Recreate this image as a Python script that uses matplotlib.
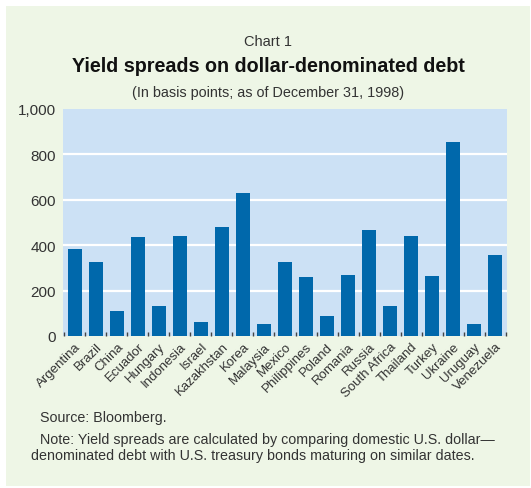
import numpy as np
import matplotlib
matplotlib.use('Agg')
import matplotlib.pyplot as plt
from matplotlib.patches import Rectangle

countries = ['Argentina', 'Brazil', 'China', 'Ecuador', 'Hungary', 'Indonesia', 'Israel',
             'Kazakhstan', 'Korea', 'Malaysia', 'Mexico', 'Philippines', 'Poland', 'Romania',
             'Russia', 'South Africa', 'Thailand', 'Turkey', 'Ukraine', 'Uruguay', 'Venezuela']
spreads = [385, 325, 110, 435, 130, 440, 60, 480, 630, 55, 325, 260, 90, 270, 465, 130,
           440, 265, 855, 55, 355]
yticks = [0, 200, 400, 600, 800, 1000]
ytick_labels = ['0', '200', '400', '600', '800', '1,000']

plt.rcParams['font.family'] = ['Liberation Sans', 'DejaVu Sans']

fig = plt.figure(figsize=(5.31, 4.89), dpi=100, facecolor='white')
# green panel behind everything
fig.patches.append(Rectangle((6/531, 1 - 487/489), 524/531, 480/489, transform=fig.transFigure,
                             facecolor='#eef6e6', edgecolor='none', zorder=-5))

ax = fig.add_axes([63/531, 1 - 337/489, 444/531, 227/489])
ax.set_zorder(2)
ax.set_facecolor('#cce1f5')
x = np.arange(len(countries))
ax.bar(x, spreads, width=0.67, color='#0068ab', zorder=3)

ax.set_xlim(-0.57, 20.57)
ax.set_ylim(0, 1000)
ax.set_yticks(yticks)
ax.set_yticklabels(ytick_labels, fontsize=11, color='#333333')
ax.tick_params(axis='y', length=0, pad=5)
for y in yticks[1:-1]:
    ax.axhline(y, color='white', lw=1.6, zorder=1)

ax.set_xticks(x)
ax.set_xticklabels(countries, rotation=45, ha='right', rotation_mode='anchor',
                   fontsize=9.5, color='#333333')
ax.tick_params(axis='x', length=0, pad=3)
ax.set_xticks(np.arange(-0.5, 20.6, 1), minor=True)
ax.tick_params(axis='x', which='minor', direction='in', length=3, width=1, color='#444444')

for spi in ['bottom', 'left', 'top', 'right']:
    ax.spines[spi].set_visible(False)

fig.text(268/531, 1 - 42/489, 'Chart 1', ha='center', va='center', fontsize=10.5, color='#333333')
fig.text(268/531, 1 - 67/489, 'Yield spreads on dollar-denominated debt', ha='center', va='center',
         fontsize=14.2, fontweight='bold', color='#111111')
fig.text(268/531, 1 - 93/489, '(In basis points; as of December 31, 1998)', ha='center', va='center',
         fontsize=10.4, color='#333333')

fig.text(40/531, 1 - 418/489, 'Source: Bloomberg.', ha='left', va='center', fontsize=10.3, color='#333333')
fig.text(40/531, 1 - 440/489, 'Note: Yield spreads are calculated by comparing domestic U.S. dollar\u2014',
         ha='left', va='center', fontsize=10.3, color='#333333')
fig.text(31/531, 1 - 456/489, 'denominated debt with U.S. treasury bonds maturing on similar dates.',
         ha='left', va='center', fontsize=10.3, color='#333333')

fig.savefig('out.png', dpi=100)
